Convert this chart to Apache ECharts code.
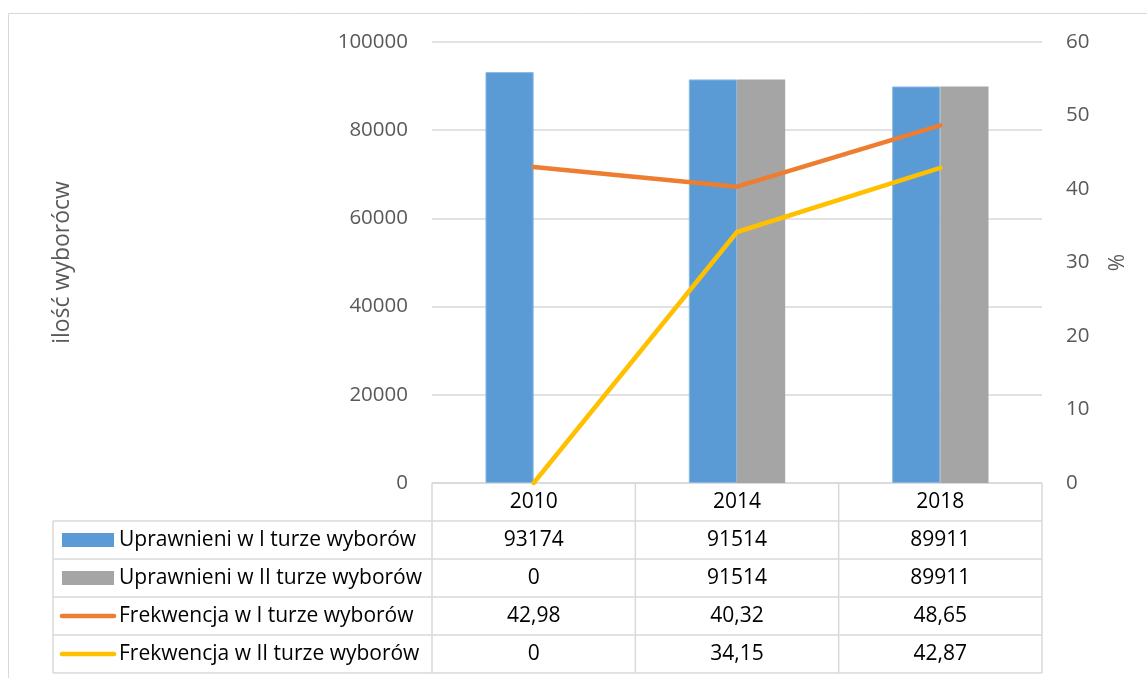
<!DOCTYPE html>
<html>
<head>
<meta charset="utf-8">
<script src="https://cdn.jsdelivr.net/npm/echarts@6/dist/echarts.min.js"></script>
<style>html,body{margin:0;padding:0;background:#fff;}#c{width:1147px;height:678px;}</style>
</head>
<body>
<div id="c"></div>
<script>
// ---- data ----
const years = ['2010', '2014', '2018'];
const uprawnieniI = [93174, 91514, 89911];
const uprawnieniII = [0, 91514, 89911];
const frekwencjaI = [42.98, 40.32, 48.65];
const frekwencjaII = [0, 34.15, 42.87];
const seriesNames = ['Uprawnieni w I turze wyborów', 'Uprawnieni w II turze wyborów', 'Frekwencja w I turze wyborów', 'Frekwencja w II turze wyborów'];
const leftTicks = [0, 20000, 40000, 60000, 80000, 100000];
const rightTicks = [0, 10, 20, 30, 40, 50, 60];

// ---- styles / layout ----
const W = 1147, H = 678;
const FONT = 'Open Sans';
const TFS = 21; // table font size
const colors = ['#5B9BD5', '#A5A5A5', '#ED7D31', '#FFC000'];
const G = { left: 432, right: 1042, top: 42, bottom: 483 };
const rowH = 38;
const tableLeft = 53;
const lineCol = '#D9D9D9';

const chart = echarts.init(document.getElementById('c'), null, { renderer: 'canvas' });

function fmt(v) { return String(v).replace('.', ','); }

function buildTable() {
  const els = [];
  els.push({ type: 'rect', shape: { x: 8.5, y: 13.5, width: 1300, height: 800 }, style: { fill: 'none', stroke: lineCol, lineWidth: 1 }, silent: true });
  const n = years.length;
  const colW = (G.right - G.left) / n;
  const rows = seriesNames.length;
  const tableTop = G.bottom;
  const bodyTop = tableTop + rowH;
  const tableBottom = bodyTop + rows * rowH;
  const ls = { stroke: lineCol, lineWidth: 1.5 };
  const font = TFS + 'px "' + FONT + '"';
  els.push({ type: 'line', shape: { x1: G.left, y1: tableTop, x2: G.right, y2: tableTop }, style: ls, silent: true });
  for (let r = 0; r <= rows; r++) {
    const y = bodyTop + r * rowH;
    els.push({ type: 'line', shape: { x1: tableLeft, y1: y, x2: G.right, y2: y }, style: ls, silent: true });
  }
  for (let c = 0; c <= n; c++) {
    const x = G.left + c * colW;
    els.push({ type: 'line', shape: { x1: x, y1: tableTop, x2: x, y2: tableBottom }, style: ls, silent: true });
  }
  els.push({ type: 'line', shape: { x1: tableLeft, y1: bodyTop, x2: tableLeft, y2: tableBottom }, style: ls, silent: true });
  years.forEach((y, c) => {
    els.push({ type: 'text', x: G.left + (c + 0.5) * colW, y: tableTop + rowH / 2, style: { text: y, font: font, fill: '#000', align: 'center', verticalAlign: 'middle' }, silent: true });
  });
  const dataRows = [uprawnieniI, uprawnieniII, frekwencjaI, frekwencjaII];
  dataRows.forEach((arr, r) => {
    const cy = bodyTop + r * rowH + rowH / 2;
    if (r < 2) {
      els.push({ type: 'rect', shape: { x: 62, y: cy - 7, width: 52, height: 14 }, style: { fill: colors[r] }, silent: true });
    } else {
      els.push({ type: 'line', shape: { x1: 62, y1: cy, x2: 114, y2: cy }, style: { stroke: colors[r], lineWidth: 4.5, lineCap: 'round' }, silent: true });
    }
    els.push({ type: 'text', x: 119, y: cy, style: { text: seriesNames[r], font: font, fill: '#000', align: 'left', verticalAlign: 'middle' }, silent: true });
    arr.forEach((v, c) => {
      els.push({ type: 'text', x: G.left + (c + 0.5) * colW, y: cy, style: { text: fmt(v), font: font, fill: '#000', align: 'center', verticalAlign: 'middle' }, silent: true });
    });
  });
  return els;
}

const option = {
  animation: false,
  backgroundColor: '#fff',
  textStyle: { fontFamily: FONT },
  grid: { left: G.left, right: W - G.right, top: G.top, bottom: H - G.bottom, containLabel: false },
  xAxis: {
    type: 'category', data: years,
    axisLine: { show: false }, axisTick: { show: false }, axisLabel: { show: false }, splitLine: { show: false }
  },
  yAxis: [
    {
      type: 'value', min: leftTicks[0], max: leftTicks[leftTicks.length - 1], interval: leftTicks[1] - leftTicks[0],
      name: 'ilość wyborócw', nameLocation: 'middle', nameGap: 358, nameRotate: 90,
      nameTextStyle: { fontSize: 23, color: '#595959', fontFamily: FONT },
      axisLine: { show: false }, axisTick: { show: false },
      axisLabel: { fontSize: 20.5, color: '#595959', margin: 24, fontFamily: FONT, formatter: v => String(v) },
      splitLine: { show: true, lineStyle: { color: lineCol, width: 1.5 } }
    },
    {
      type: 'value', min: rightTicks[0], max: rightTicks[rightTicks.length - 1], interval: rightTicks[1] - rightTicks[0],
      name: '%', nameLocation: 'middle', nameGap: 66, nameRotate: 90,
      nameTextStyle: { fontSize: 21, color: '#595959', fontFamily: FONT },
      axisLine: { show: false }, axisTick: { show: false },
      axisLabel: { fontSize: 20.5, color: '#595959', margin: 24, fontFamily: FONT, formatter: v => String(v) },
      splitLine: { show: false }
    }
  ],
  series: [
    { name: seriesNames[0], type: 'bar', data: uprawnieniI, yAxisIndex: 0, barWidth: '23.7%', barGap: '0%',
      itemStyle: { color: colors[0], borderColor: '#8AB8E2', borderWidth: 1 } },
    { name: seriesNames[1], type: 'bar', data: uprawnieniII, yAxisIndex: 0, barWidth: '23.7%', barGap: '0%',
      itemStyle: { color: colors[1] } },
    { name: seriesNames[2], type: 'line', data: frekwencjaI, yAxisIndex: 1, symbol: 'none',
      lineStyle: { color: colors[2], width: 4.5, cap: 'round', join: 'round' }, itemStyle: { color: colors[2] } },
    { name: seriesNames[3], type: 'line', data: frekwencjaII, yAxisIndex: 1, symbol: 'none',
      lineStyle: { color: colors[3], width: 4.5, cap: 'round', join: 'round' }, itemStyle: { color: colors[3] } }
  ],
  graphic: buildTable()
};
chart.setOption(option);
</script>
</body>
</html>
